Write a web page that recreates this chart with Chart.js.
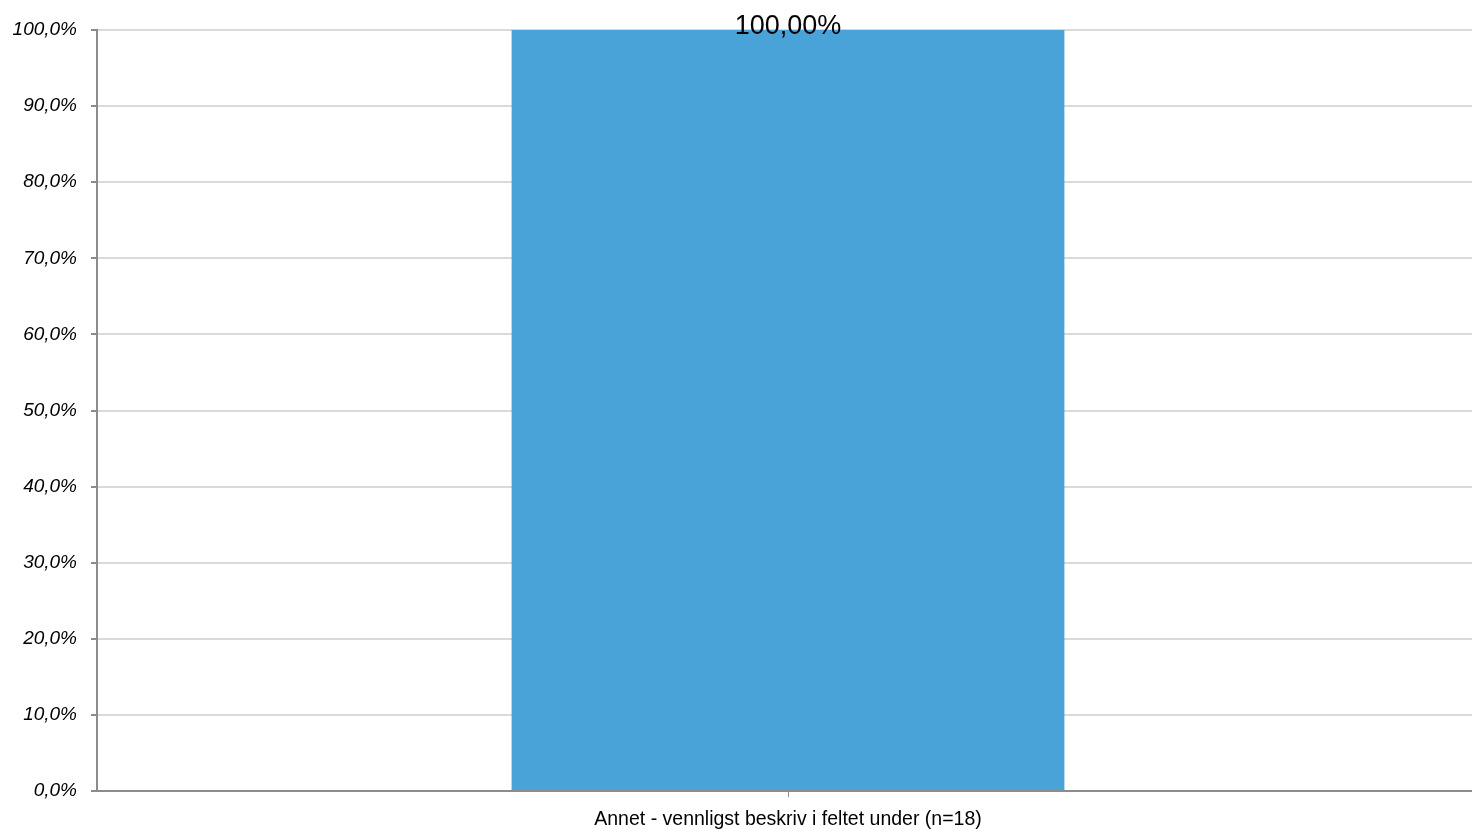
<!DOCTYPE html>
<html>
<head>
<meta charset="utf-8">
<script src="https://cdn.jsdelivr.net/npm/chart.js@4/dist/chart.umd.min.js"></script>
<style>
    html, body { margin: 0; padding: 0; background: #ffffff; overflow: hidden; }
    #wrap { width: 1479px; height: 831px; position: relative; }
</style>
</head>
<body>
<div id="wrap"><canvas id="chart"></canvas></div>
<script>
// Chart data
const categories = ['Annet - vennligst beskriv i feltet under (n=18)'];
const values = [100];
const yTicks = [0, 10, 20, 30, 40, 50, 60, 70, 80, 90, 100];

// Value label above the bar
const valueLabels = {
    id: 'valueLabels',
    afterDatasetsDraw(chart) {
        const ctx = chart.ctx;
        const meta = chart.getDatasetMeta(0);
        ctx.save();
        ctx.font = '27px "Liberation Sans", Arial, sans-serif';
        ctx.fillStyle = '#000000';
        ctx.textAlign = 'center';
        ctx.textBaseline = 'middle';
        meta.data.forEach((bar, i) => {
            const txt = values[i].toFixed(2).replace('.', ',') + '%';
            ctx.fillText(txt, bar.x, bar.y - 3);
        });
        ctx.restore();
    }
};

const ctx = document.getElementById('chart').getContext('2d');
new Chart(ctx, {
    type: 'bar',
    data: {
        labels: categories,
        datasets: [{
            data: values,
            backgroundColor: '#4aa3d8',
            borderWidth: 0,
            categoryPercentage: 1,
            barPercentage: 0.4
        }]
    },
    options: {
        responsive: true,
        maintainAspectRatio: false,
        animation: false,
        layout: { padding: { top: 30, right: 0, bottom: 0, left: 0 } },
        plugins: {
            legend: { display: false },
            tooltip: { enabled: false }
        },
        scales: {
            x: {
                grid: {
                    offset: false,
                    drawOnChartArea: false,
                    tickLength: 6,
                    tickColor: '#8c8c8c'
                },
                border: { color: '#8c8c8c', width: 2 },
                ticks: {
                    padding: 11,
                    color: '#000000',
                    font: { family: '"Liberation Sans", Arial, sans-serif', size: 19.5 }
                },
                afterFit(scale) { scale.height = 40; }
            },
            y: {
                min: 0,
                max: 100,
                afterBuildTicks(scale) {
                    scale.ticks = yTicks.map(v => ({ value: v }));
                },
                grid: {
                    color: '#d9d9d9',
                    lineWidth: 2,
                    tickLength: 6,
                    tickColor: '#8c8c8c'
                },
                border: { color: '#8c8c8c', width: 2 },
                ticks: {
                    padding: 14,
                    color: '#000000',
                    font: { family: '"Liberation Sans", Arial, sans-serif', size: 19, style: 'italic' },
                    callback: v => v.toFixed(1).replace('.', ',') + '%'
                },
                afterFit(scale) { scale.width = 97; }
            }
        }
    },
    plugins: [valueLabels]
});
</script>
</body>
</html>
